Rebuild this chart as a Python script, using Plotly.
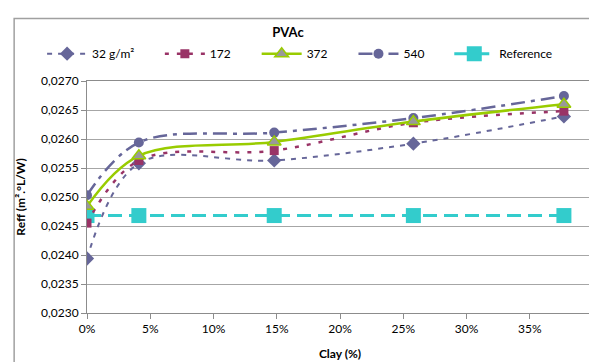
import plotly.graph_objects as go

clay = [0, 4.1, 14.8, 25.8, 37.7]
s32 = [0.02394, 0.02558, 0.02563, 0.02592, 0.02639]
s172 = [0.02455, 0.02563, 0.02580, 0.02628, 0.02648]
s372 = [0.02484, 0.02571, 0.02595, 0.02630, 0.02660]
s540 = [0.02503, 0.02594, 0.02611, 0.02636, 0.02674]
ref = [0.02468, 0.02468, 0.02468, 0.02468, 0.02468]

names = ["32 g/m²", "172", "372", "540", "Reference"]
y_ticks = [0.0230, 0.0235, 0.0240, 0.0245, 0.0250, 0.0255, 0.0260, 0.0265, 0.0270]
x_ticks = [0, 5, 10, 15, 20, 25, 30, 35, 40]
x_tick_labels = ["0%", "5%", "10%", "15%", "20%", "25%", "30%", "35%", "40%"]

FONT = "Lato"
W, H = 597, 362
ML, MR, MT, MB = 79, 11, 73, 51
PW, PH = W - ML - MR, H - MT - MB

fig = go.Figure()

fig.add_trace(go.Scatter(x=clay, y=ref, name=names[4], mode="lines+markers", legend="legend5",
                         line=dict(color="#33CCCC", width=3, dash="14px,7px"),
                         marker=dict(symbol="square", size=15, color="#33CCCC")))
fig.add_trace(go.Scatter(x=clay, y=s32, name=names[0], mode="lines+markers", legend="legend",
                         line=dict(color="#666699", width=2, dash="5px,6px", shape="spline"),
                         marker=dict(symbol="diamond", size=11, color="#666699")))
fig.add_trace(go.Scatter(x=clay, y=s172, name=names[1], mode="lines+markers", legend="legend2",
                         line=dict(color="#993366", width=2.5, dash="4px,8px", shape="spline"),
                         marker=dict(symbol="square", size=9, color="#993366")))
fig.add_trace(go.Scatter(x=clay, y=s540, name=names[3], mode="lines+markers", legend="legend4",
                         line=dict(color="#666699", width=2.5, dash="14px,6px,4px,6px", shape="spline"),
                         marker=dict(symbol="circle", size=10, color="#666699")))
fig.add_trace(go.Scatter(x=clay, y=s372, name=names[2], mode="lines+markers", legend="legend3",
                         line=dict(color="#99CC00", width=2.5, shape="spline"),
                         marker=dict(symbol="triangle-up", size=12, color="#999999",
                                     line=dict(color="#99CC00", width=1.5))))

fig.add_shape(type="rect", xref="paper", yref="paper",
              x0=(6 - ML) / PW, x1=(593 - ML) / PW, y0=-0.3, y1=1 + (MT - 9) / PH,
              line=dict(color="#A0A0A0", width=1.5), layer="below")

legend_x = [42, 160, 257, 354, 450]
legend_keys = ["legend", "legend2", "legend3", "legend4", "legend5"]
legends = {}
for key, lx in zip(legend_keys, legend_x):
    legends[key] = dict(orientation="h", xref="paper", yref="paper",
                        x=(lx - 8 - ML) / PW, xanchor="left",
                        y=1 + (MT - 45) / PH, yanchor="middle",
                        itemwidth=40, font=dict(family=FONT, size=12),
                        bgcolor="rgba(0,0,0,0)")

fig.update_layout(
    width=W, height=H,
    margin=dict(l=ML, r=MR, t=MT, b=MB),
    paper_bgcolor="white", plot_bgcolor="white",
    separators=", ",
    font=dict(family=FONT, size=12, color="#000000"),
    title=dict(text="<b>PVAc</b>", x=280/597, xref="container", xanchor="center",
               y=1 - 24/362, yref="container", yanchor="middle",
               font=dict(family=FONT, size=13)),
    showlegend=True,
    xaxis=dict(range=[0, 40], tickvals=x_ticks, ticktext=x_tick_labels,
               showgrid=False, zeroline=False,
               showline=True, linecolor="#8C8C8C", linewidth=1, mirror=True,
               ticks="outside", ticklen=5, tickcolor="#8C8C8C",
               title=dict(text="<b>Clay (%)</b>", standoff=14, font=dict(family=FONT, size=12)),
               tickfont=dict(family=FONT, size=12)),
    yaxis=dict(range=[0.0230, 0.0270], tickvals=y_ticks, tickformat=".4f",
               showgrid=True, gridcolor="#A6A6A6", gridwidth=1, zeroline=False,
               showline=True, linecolor="#8C8C8C", linewidth=1, mirror=True,
               ticks="outside", ticklen=5, tickcolor="#8C8C8C",
               title=dict(text="<b>Reff (m².°L/W)</b>", standoff=12, font=dict(family=FONT, size=12)),
               tickfont=dict(family=FONT, size=12)),
    **legends,
)

fig.write_html("out.html")
